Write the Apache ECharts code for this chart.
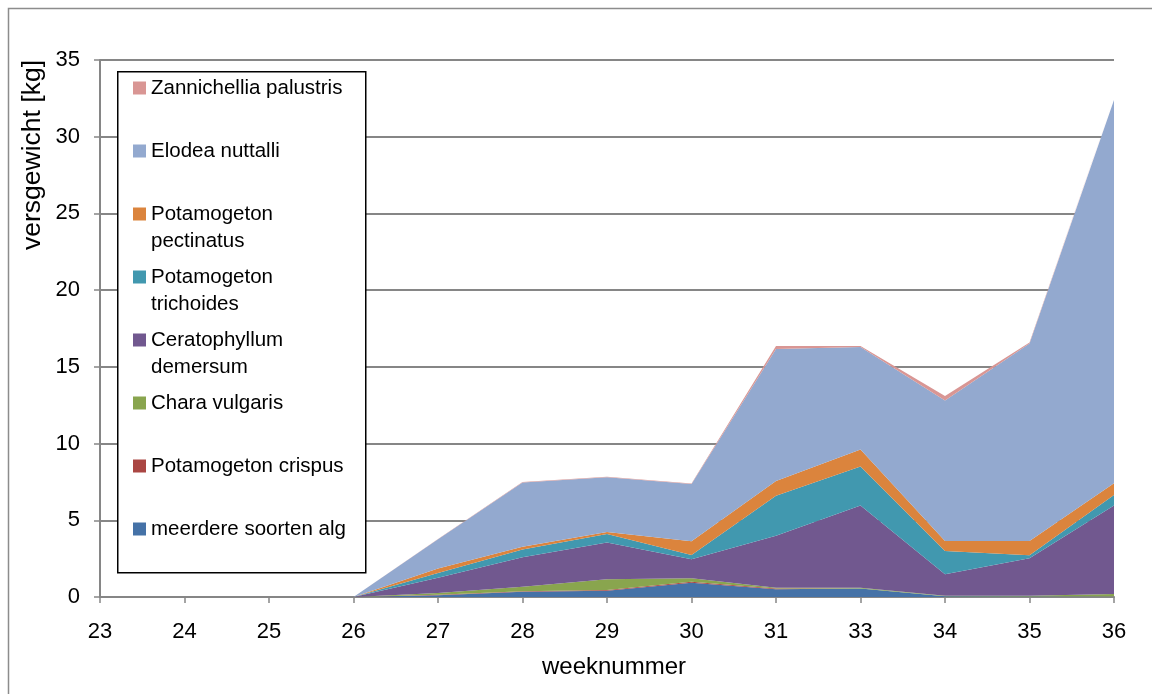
<!DOCTYPE html>
<html>
<head>
<meta charset="utf-8">
<script src="https://cdn.jsdelivr.net/npm/echarts@6/dist/echarts.min.js"></script>
<style>
html,body{margin:0;padding:0;background:#fff;}
#chart{width:1152px;height:694px;}
</style>
</head>
<body>
<div id="chart"></div>
<script>
const weeks = ['23','24','25','26','27','28','29','30','31','33','34','35','36'];
const yTicks = [0, 5, 10, 15, 20, 25, 30, 35];

const meerdereSoortenAlg   = [0, 0, 0, 0, 0.12, 0.35, 0.41, 0.93, 0.50, 0.55, 0.05, 0.03, 0.05];
const potamogetonCrispus   = [0, 0, 0, 0, 0.02, 0.02, 0.05, 0.07, 0.06, 0.01, 0.00, 0.00, 0.00];
const charaVulgaris        = [0, 0, 0, 0, 0.12, 0.30, 0.69, 0.22, 0.05, 0.05, 0.03, 0.05, 0.15];
const ceratophyllum        = [0, 0, 0, 0, 1.00, 1.92, 2.41, 1.24, 3.39, 5.35, 1.40, 2.44, 5.76];
const potTrichoides        = [0, 0, 0, 0, 0.30, 0.51, 0.54, 0.28, 2.60, 2.54, 1.52, 0.20, 0.69];
const potPectinatus        = [0, 0, 0, 0, 0.30, 0.18, 0.14, 0.89, 0.96, 1.12, 0.65, 0.93, 0.76];
const elodeaNuttalli       = [0, 0, 0, 0, 1.90, 4.19, 3.56, 3.73, 8.60, 6.68, 9.15, 12.88, 24.99];
const zannichellia         = [0, 0, 0, 0, 0.02, 0.03, 0.03, 0.03, 0.20, 0.06, 0.30, 0.05, 0.10];

const seriesDefs = [
  ['meerdere soorten alg', meerdereSoortenAlg, '#4572A7', ['meerdere soorten alg']],
  ['Potamogeton crispus', potamogetonCrispus, '#AA4643', ['Potamogeton crispus']],
  ['Chara vulgaris', charaVulgaris, '#89A54E', ['Chara vulgaris']],
  ['Ceratophyllum demersum', ceratophyllum, '#71588F', ['Ceratophyllum', 'demersum']],
  ['Potamogeton trichoides', potTrichoides, '#4198AF', ['Potamogeton', 'trichoides']],
  ['Potamogeton pectinatus', potPectinatus, '#DB843D', ['Potamogeton', 'pectinatus']],
  ['Elodea nuttalli', elodeaNuttalli, '#93A9CF', ['Elodea nuttalli']],
  ['Zannichellia palustris', zannichellia, '#D99694', ['Zannichellia palustris']]
];

// three-line label block (blank, first line, second line) so the icon lines up with the first line
const legendLabels = {};
seriesDefs.forEach(d => { legendLabels[d[0]] = ' \n' + d[3][0] + '\n' + (d[3][1] || ' '); });

const FONT = 'Liberation Sans';
const chart = echarts.init(document.getElementById('chart'), null, {renderer: 'canvas'});
chart.setOption({
  animation: false,
  backgroundColor: '#ffffff',
  textStyle: {fontFamily: FONT},
  grid: {left: 100, right: 38, top: 60, bottom: 97, containLabel: false},
  xAxis: {
    type: 'category',
    data: weeks,
    boundaryGap: false,
    name: 'weeknummer',
    nameLocation: 'middle',
    nameGap: 58,
    nameTextStyle: {fontSize: 24, color: '#000', fontFamily: FONT, padding: [0, 0, 0, 14]},
    axisLine: {lineStyle: {color: '#868686', width: 2}},
    axisTick: {show: true, alignWithLabel: true, length: 6, lineStyle: {color: '#868686', width: 1.5}},
    axisLabel: {fontSize: 22, color: '#000', margin: 24, fontFamily: FONT},
    splitLine: {show: false}
  },
  yAxis: {
    type: 'value',
    min: 0, max: 35, interval: 5,
    axisLine: {show: true, lineStyle: {color: '#868686', width: 2}},
    axisTick: {show: true, length: 6, lineStyle: {color: '#868686', width: 1.5}},
    axisLabel: {fontSize: 22, color: '#000', margin: 20, fontFamily: FONT,
      formatter: v => (yTicks.indexOf(v) >= 0 ? String(v) : '')},
    splitLine: {show: true, lineStyle: {color: '#868686', width: 2}}
  },
  legend: {
    orient: 'vertical',
    left: 133,
    top: 47.5,
    padding: 0,
    itemGap: -18,
    itemWidth: 13,
    itemHeight: 13,
    icon: 'rect',
    selectedMode: false,
    z: 10,
    data: seriesDefs.map(d => d[0]).reverse(),
    formatter: name => legendLabels[name],
    textStyle: {fontSize: 20.5, lineHeight: 27, color: '#000', fontFamily: FONT}
  },
  graphic: [
    {type: 'rect', left: 6, top: 6, shape: {width: 1170, height: 720},
     style: {fill: 'none', stroke: '#8c8c8c', lineWidth: 1.5}, z: 0, silent: true},
    {type: 'rect', left: 117, top: 71, shape: {width: 248, height: 501},
     style: {fill: '#ffffff', stroke: '#000', lineWidth: 1.5}, z: 1, silent: true},
    {type: 'text', left: 19, top: 60, rotation: Math.PI / 2,
     style: {text: 'versgewicht [kg]', fontSize: 26.5, fill: '#000', fontFamily: FONT}, z: 10}
  ],
  series: seriesDefs.map(d => ({
    name: d[0],
    type: 'line',
    stack: 'total',
    data: d[1],
    symbol: 'none',
    showSymbol: false,
    lineStyle: {width: 0, color: d[2]},
    itemStyle: {color: d[2]},
    areaStyle: {color: d[2], opacity: 1},
    emphasis: {disabled: true}
  }))
});
</script>
</body>
</html>
